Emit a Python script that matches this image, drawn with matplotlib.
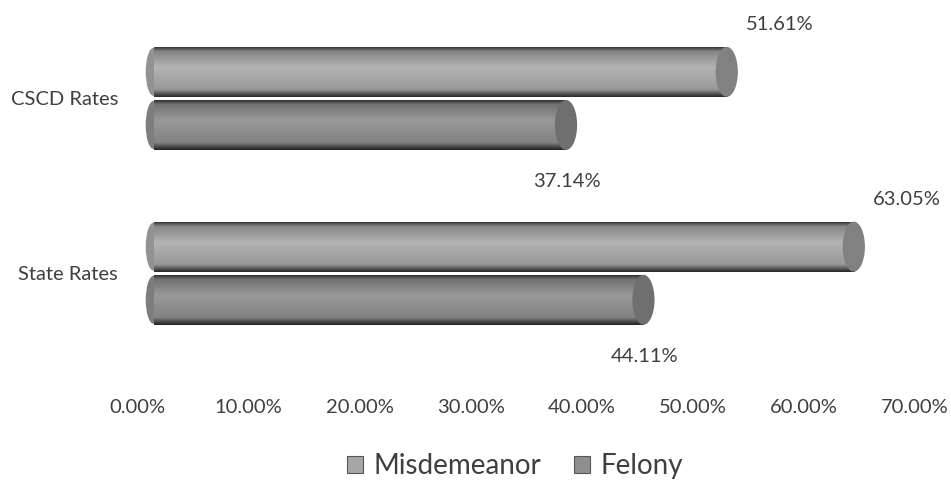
import matplotlib.pyplot as plt
import matplotlib.transforms as mtransforms
import numpy as np
from matplotlib.patches import Ellipse, Patch
from matplotlib.colors import LinearSegmentedColormap

plt.rcParams['font.family'] = ['Lato', 'DejaVu Sans']

# データ
categories = ['State Rates', 'CSCD Rates']
series = ['Misdemeanor', 'Felony']
misdemeanor = [63.05, 51.61]
felony = [44.11, 37.14]
ticks = [0, 10, 20, 30, 40, 50, 60, 70]

colors = {'Misdemeanor': '#a6a6a6', 'Felony': '#8e8e8e'}
text_col = '#3f3f3f'

fig = plt.figure(figsize=(9.51, 4.84), dpi=100)
ax = fig.add_axes([137.5 / 951, 104 / 484, 777.5 / 951, 380 / 484])

bar_h = 0.286
gap = 0.009
y = np.arange(len(categories))

# 3D風の奥行きずらし
depth = ax.transData + mtransforms.ScaledTranslation(16 / 100, 0, fig.dpi_scale_trans)


def cylinder(ax, ypos, val, base):
    r, g, b = [int(base[i:i + 2], 16) / 255 for i in (1, 3, 5)]
    cmap = LinearSegmentedColormap.from_list('cyl', [
        (0.0, (r * 0.35, g * 0.35, b * 0.35)),
        (0.08, (r * 0.8, g * 0.8, b * 0.8)),
        (0.4, (min(r * 1.08, 1), min(g * 1.08, 1), min(b * 1.08, 1))),
        (0.85, (r * 0.92, g * 0.92, b * 0.92)),
        (1.0, (r * 0.25, g * 0.25, b * 0.25)),
    ])
    bar = ax.barh(ypos, val, height=bar_h, color=base, edgecolor='none', zorder=2)[0]
    bar.set_transform(depth)
    grad = np.linspace(0, 1, 100).reshape(-1, 1)
    im = ax.imshow(grad, cmap=cmap, aspect='auto', zorder=3,
                   extent=[0, val, ypos - bar_h / 2, ypos + bar_h / 2], origin='upper')
    im.set_transform(depth)
    im.set_clip_path(bar)
    ax.add_patch(Ellipse((val, ypos), 2.0, bar_h, facecolor=(r * 0.78, g * 0.78, b * 0.78),
                         edgecolor='none', zorder=4, transform=depth))
    ax.add_patch(Ellipse((0, ypos), 1.4, bar_h * 0.96, facecolor=(r * 0.88, g * 0.88, b * 0.88),
                         edgecolor='none', zorder=1, transform=depth))


for i in range(len(categories)):
    ym = y[i] + bar_h / 2 + gap
    yf = y[i] - bar_h / 2 - gap
    cylinder(ax, ym, misdemeanor[i], colors['Misdemeanor'])
    cylinder(ax, yf, felony[i], colors['Felony'])
    ax.annotate(f'{misdemeanor[i]:.2f}%', (misdemeanor[i], ym + bar_h / 2),
                xytext=(50, 16), textcoords='offset points', ha='center', va='center',
                fontsize=14.5, color=text_col)
    ax.annotate(f'{felony[i]:.2f}%', (felony[i], yf - bar_h / 2),
                xytext=(12, -23), textcoords='offset points', ha='center', va='center',
                fontsize=14.5, color=text_col)

ax.set_xlim(0, 70)
ax.set_ylim(-0.611, 1.563)
ax.set_xticks(ticks)
ax.set_xticklabels([f'{t:.2f}%' for t in ticks], fontsize=14.5, color=text_col)
ax.set_yticks(y)
ax.set_yticklabels(categories, fontsize=14.5, color=text_col)
ax.tick_params(axis='x', length=0, pad=14)
ax.tick_params(axis='y', length=0, pad=14)
for s in ax.spines.values():
    s.set_visible(False)

handles = [Patch(facecolor=colors[s], edgecolor='#555555', linewidth=0.8) for s in series]
fig.legend(handles, series, loc='center', bbox_to_anchor=(515 / 951, 1 - 466 / 484), ncol=2,
           frameon=False, fontsize=20, handlelength=0.58, handleheight=0.58,
           handletextpad=0.35, columnspacing=1.2, labelcolor=text_col,
           borderpad=0, borderaxespad=0)

plt.savefig('out.png', dpi=100)
